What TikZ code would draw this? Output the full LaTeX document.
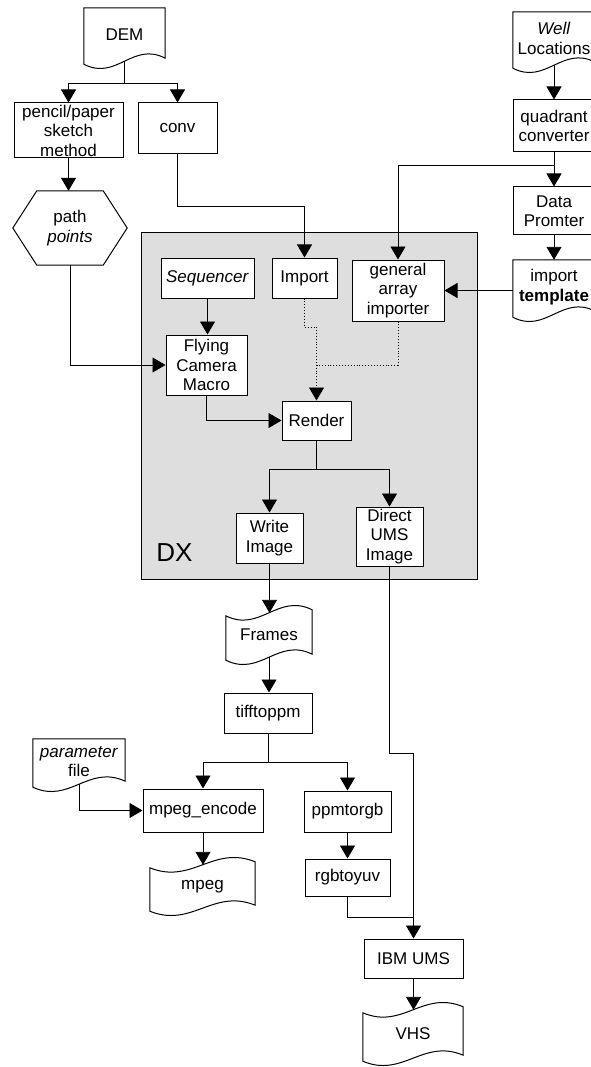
\documentclass[tikz,border=0pt]{standalone}
\usepackage{fontspec}
\setmainfont{Liberation Sans}
\usetikzlibrary{arrows.meta,calc}
\tikzset{
  every node/.style={font=\fontsize{17}{19.5}\selectfont, align=center, inner sep=0pt},
  box/.style={draw, line width=1pt, fill=white, minimum width=#1},
  docnode/.style={minimum width=#1},
  arr/.style={line width=0.9pt, -{Triangle[length=13pt,width=15pt]}},
  ln/.style={line width=0.9pt},
  dotarr/.style={line width=0.9pt, dotted, -{Triangle[length=13pt,width=15pt]}},
  dotln/.style={line width=0.9pt, dotted},
  shp/.style={line width=1pt}
}
% document shape (wavy bottom)
\newcommand{\docshape}[2]{% name, amplitude
  \draw[shp] (#1.north west) -- (#1.north east) -- ($(#1.south east)+(0,-3)$)
    .. controls ($(#1.south east)!0.4!(#1.south west)+(0,-#2)$) and ($(#1.south west)!0.4!(#1.south east)+(0,#2)$) .. ($(#1.south west)+(0,3)$) -- cycle;}
% punched tape shape (wavy top and bottom)
\newcommand{\tapeshape}[2]{%
  \draw[shp] ($(#1.north west)+(0,3)$)
    .. controls ($(#1.north west)!0.4!(#1.north east)+(0,#2)$) and ($(#1.north east)!0.4!(#1.north west)+(0,-#2)$) .. ($(#1.north east)+(0,-3)$)
    -- ($(#1.south east)+(0,-3)$)
    .. controls ($(#1.south east)!0.4!(#1.south west)+(0,-#2)$) and ($(#1.south west)!0.4!(#1.south east)+(0,#2)$) .. ($(#1.south west)+(0,3)$) -- cycle;}
\begin{document}
\begin{tikzpicture}[x=1pt,y=-1pt]
\useasboundingbox (0,0) rectangle (590,1067);
% DX area
\fill[black!13] (141,233) rectangle (477,579);
\draw[line width=1pt] (141,233) rectangle (477,579);
\node[font=\fontsize{26}{30}\selectfont] (dx) at (174.5,553) {DX};

% top left
\node[docnode=81, minimum height=53] (dem) at (124.5,34.5) {DEM};
\docshape{dem}{20}
\node[box=109, minimum height=55] (pencil) at (68.5,130.5) {pencil/paper\\sketch\\method};
\node[box=79, minimum height=51] (conv) at (177.5,128.5) {conv};
\node[minimum width=114, minimum height=74] (pts) at (70,228) {path\\\textit{points}};
\draw[shp] (pts.west) -- ($(pts.north west)+(24,0)$) -- ($(pts.north east)+(-24,0)$) -- (pts.east)
  -- ($(pts.south east)+(-24,0)$) -- ($(pts.south west)+(24,0)$) -- cycle;

% top right
\node[docnode=82, minimum height=53] (well) at (554,38.5) {\textit{Well}\\Locations};
\docshape{well}{20}
\node[box=82, minimum height=52] (quad) at (554,126) {quadrant\\converter};
\node[box=82, minimum height=48] (data) at (554,211) {Data\\Promter};
\node[docnode=82, minimum height=54] (impt) at (554,287) {import\\\textbf{template}};
\docshape{impt}{20}

% inside DX
\node[box=93, minimum height=40] (seq) at (207.5,278) {\textit{Sequencer}};
\node[box=65, minimum height=40] (imp) at (304.5,278) {Import};
\node[box=92, minimum height=61] (gai) at (398,290.5) {general\\array\\importer};
\node[box=81, minimum height=60] (fcm) at (206.5,365) {Flying\\Camera\\Macro};
\node[box=69, minimum height=39] (render) at (316.5,420.5) {Render};
\node[box=67, minimum height=50] (write) at (269.5,538) {Write\\Image};
\node[box=67, minimum height=59] (direct) at (389.5,536.5) {Direct\\UMS\\Image};

% bottom
\node[docnode=86, minimum height=44] (frames) at (269,635) {Frames};
\tapeshape{frames}{20}
\node[box=88, minimum height=40] (tiff) at (268,713) {tifftoppm};
\node[docnode=92, minimum height=45] (param) at (79,761.5) {\textit{parameter}\\file};
\docshape{param}{20}
\node[box=120, minimum height=43] (mpegenc) at (203,810.5) {mpeg\_encode};
\node[docnode=105, minimum height=43] (mpeg) at (202.5,886.5) {mpeg};
\tapeshape{mpeg}{20}
\node[box=87, minimum height=41] (ppm) at (347.5,811.5) {ppmtorgb};
\node[box=85, minimum height=37] (rgb) at (347.5,877.5) {rgbtoyuv};
\node[box=99, minimum height=39] (ibm) at (413.5,958.5) {IBM UMS};
\node[docnode=100, minimum height=48] (vhs) at (413,1034) {VHS};
\tapeshape{vhs}{20}

% helper coordinates
\coordinate (demsplit) at (124.5,83);
\coordinate (convbend) at (177.5,206);
\coordinate (dotjoin) at (316.5,327);
\coordinate (rsplit) at (316.5,469);
\coordinate (dbend) at (389.5,753);
\coordinate (tsplit) at (268,762);
\coordinate (rgbbend) at (347.5,917);
\coordinate (qsplit) at (554,165);

% connectors
\draw[ln] (dem.south) -- (demsplit);
\draw[arr] (demsplit) -| (pencil.north);
\draw[arr] (demsplit) -| (conv.north);
\draw[arr] (pencil.south) -- (pencil.south |- pts.north);
\draw[arr] (conv.south) -- (convbend) -| (imp.north);
\draw[arr] (pts.south) |- (fcm.west);
\draw[arr] (seq.south) -- (seq.south |- fcm.north);
\draw[dotln] (imp.south) |- (dotjoin);
\draw[dotln] (gai.south) |- (316.5,365);
\draw[dotarr] (dotjoin) -- (render.north);
\draw[arr] (fcm.south) |- (render.west);
\draw[ln] (render.south) -- (rsplit);
\draw[arr] (rsplit) -| (write.north);
\draw[arr] (rsplit) -| (direct.north);
\draw[arr] (write.south) -- (write.south |- frames.north);
\draw[arr] (direct.south) -- (dbend) -| (ibm.north);
\draw[arr] (frames.south) -- (frames.south |- tiff.north);
\draw[ln] (tiff.south) -- (tsplit);
\draw[arr] (tsplit) -| (mpegenc.north);
\draw[arr] (tsplit) -| (ppm.north);
\draw[arr] (param.south) |- (mpegenc.west);
\draw[arr] (mpegenc.south) -- (mpegenc.south |- mpeg.north);
\draw[arr] (ppm.south) -- (rgb.north);
\draw[ln] (rgb.south) -- (rgbbend) -- (rgbbend -| ibm.north);
\draw[arr] (ibm.south) -- (ibm.south |- vhs.north);
\draw[arr] (well.south) -- (quad.north);
\draw[arr] (quad.south) -- (data.north);
\draw[arr] (qsplit) -| (gai.north);
\draw[arr] (data.south) -- (impt.north);
\draw[arr] (impt.west |- gai.east) -- (gai.east);
\end{tikzpicture}
\end{document}
